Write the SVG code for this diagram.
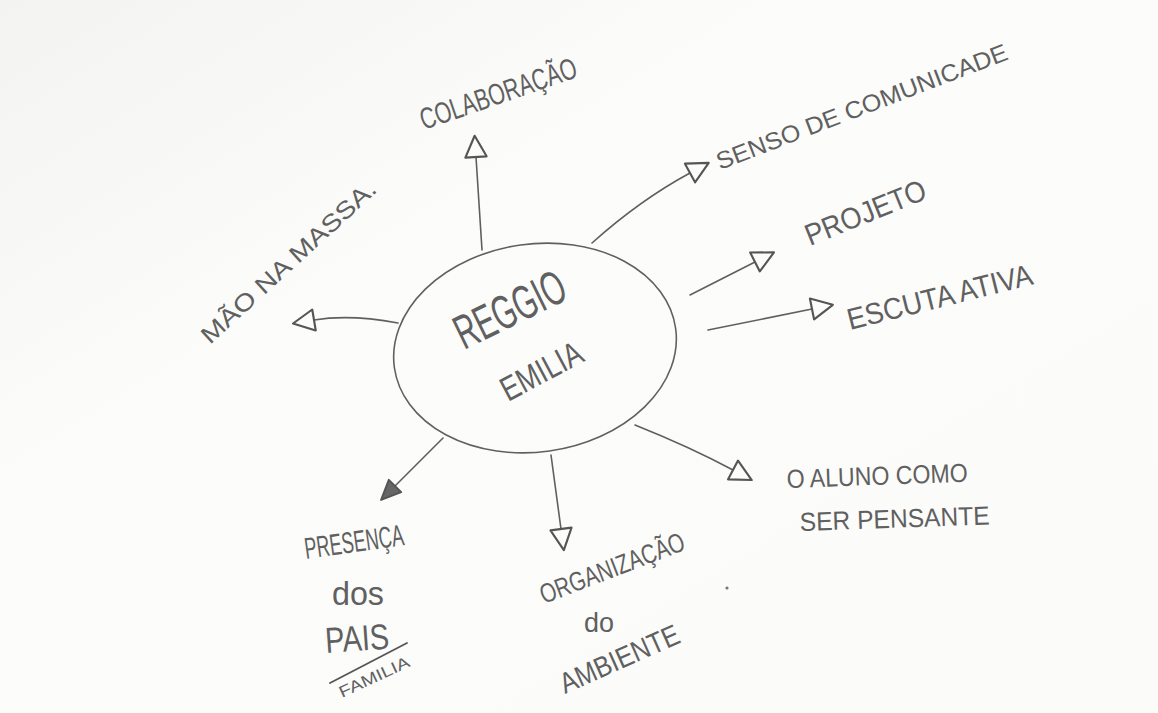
<svg xmlns="http://www.w3.org/2000/svg" width="1158" height="713" viewBox="0 0 1158 713">
<defs>
<linearGradient id="bg" x1="0" y1="0" x2="1" y2="1">
<stop offset="0" stop-color="#f3f3f1"/>
<stop offset="0.35" stop-color="#fcfcfb"/>
<stop offset="1" stop-color="#fbfbfa"/>
</linearGradient>
<marker id="tri" viewBox="0 0 22 22" refX="2" refY="11" markerWidth="26" markerHeight="26" markerUnits="userSpaceOnUse" orient="auto">
<path d="M2,2 L20,11 L2,20 Z" fill="#fcfcfb" stroke="#555" stroke-width="1.8" stroke-linejoin="round"/>
</marker>
<marker id="triFill" viewBox="0 0 22 22" refX="2" refY="11" markerWidth="24" markerHeight="24" markerUnits="userSpaceOnUse" orient="auto">
<path d="M2,3 L20,11 L2,19 Z" fill="#666" stroke="#555" stroke-width="1.8" stroke-linejoin="round"/>
</marker>
</defs>
<style>
.t{font-family:"Liberation Sans","DejaVu Sans",sans-serif;fill:#606060;font-weight:normal}
.c{fill:none;stroke:#5f5f5f;stroke-width:1.6;stroke-linecap:round}
</style>
<rect x="0" y="0" width="1158" height="713" fill="url(#bg)"/>

<g id="connectors">
<path class="c" d="M482,250 L476,157" marker-end="url(#tri)"/>
<path class="c" d="M592,243 Q640,200 690,173" marker-end="url(#tri)"/>
<path class="c" d="M690,295 L755,262" marker-end="url(#tri)"/>
<path class="c" d="M708,330 L812,309" marker-end="url(#tri)"/>
<path class="c" d="M398,323 Q350,314 314,320" marker-end="url(#tri)"/>
<path class="c" d="M443,438 L395,486" marker-end="url(#triFill)"/>
<path class="c" d="M551,455 L561,529" marker-end="url(#tri)"/>
<path class="c" d="M635,425 Q690,447 733,470" marker-end="url(#tri)"/>
</g>

<g id="center">
<ellipse cx="535" cy="348" rx="142" ry="104" transform="rotate(-8 535 348)" fill="none" stroke="#606060" stroke-width="1.6"/>
<text class="t" x="464" y="350" font-size="48" textLength="118" lengthAdjust="spacingAndGlyphs" transform="rotate(-26 464 350)">REGGIO</text>
<text class="t" x="508" y="402" font-size="34" textLength="88" lengthAdjust="spacingAndGlyphs" transform="rotate(-28 508 402)">EMILIA</text>
</g>

<g id="colaboracao">
<text class="t" x="424" y="130" font-size="30" textLength="164" lengthAdjust="spacingAndGlyphs" transform="rotate(-19 424 130)">COLABORAÇÃO</text>
</g>

<g id="senso">
<text class="t" x="720" y="170" font-size="24" textLength="310" lengthAdjust="spacingAndGlyphs" transform="rotate(-21 720 170)">SENSO DE COMUNICADE</text>
</g>

<g id="projeto">
<text class="t" x="810" y="246" font-size="30" textLength="128" lengthAdjust="spacingAndGlyphs" transform="rotate(-22 810 246)">PROJETO</text>
</g>

<g id="escuta">
<text class="t" x="850" y="330" font-size="30" textLength="190" lengthAdjust="spacingAndGlyphs" transform="rotate(-14 850 330)">ESCUTA ATIVA</text>
</g>

<g id="mao">
<text class="t" x="210" y="345" font-size="24" textLength="228" lengthAdjust="spacingAndGlyphs" transform="rotate(-42.5 210 345)">MÃO NA MASSA.</text>
</g>

<g id="presenca">
<text class="t" x="306" y="559" font-size="30" textLength="100" lengthAdjust="spacingAndGlyphs" transform="rotate(-8 306 559)">PRESENÇA</text>
<text class="t" x="332" y="605" font-size="34" textLength="52" lengthAdjust="spacingAndGlyphs">dos</text>
<text class="t" x="326" y="653" font-size="36" textLength="64" lengthAdjust="spacingAndGlyphs" transform="rotate(-4 326 653)">PAIS</text>
<line x1="330" y1="683" x2="407" y2="643" stroke="#555" stroke-width="1.8" stroke-linecap="round"/>
<text class="t" x="342" y="698" font-size="16" textLength="76" lengthAdjust="spacingAndGlyphs" transform="rotate(-25 342 698)">FAMILIA</text>
</g>

<g id="organizacao">
<text class="t" x="544" y="604" font-size="27" textLength="153" lengthAdjust="spacingAndGlyphs" transform="rotate(-21 544 604)">ORGANIZAÇÃO</text>
<text class="t" x="584" y="632" font-size="28" textLength="30" lengthAdjust="spacingAndGlyphs">do</text>
<text class="t" x="565" y="694" font-size="29" textLength="128" lengthAdjust="spacingAndGlyphs" transform="rotate(-24 565 694)">AMBIENTE</text>
</g>

<g id="aluno">
<text class="t" x="787" y="488" font-size="26" textLength="181" lengthAdjust="spacingAndGlyphs" transform="rotate(-2 787 488)">O ALUNO COMO</text>
<text class="t" x="800" y="531" font-size="26" textLength="190" lengthAdjust="spacingAndGlyphs" transform="rotate(-2 800 531)">SER PENSANTE</text>
</g>

<circle cx="727" cy="588" r="1.6" fill="#777"/>
</svg>
